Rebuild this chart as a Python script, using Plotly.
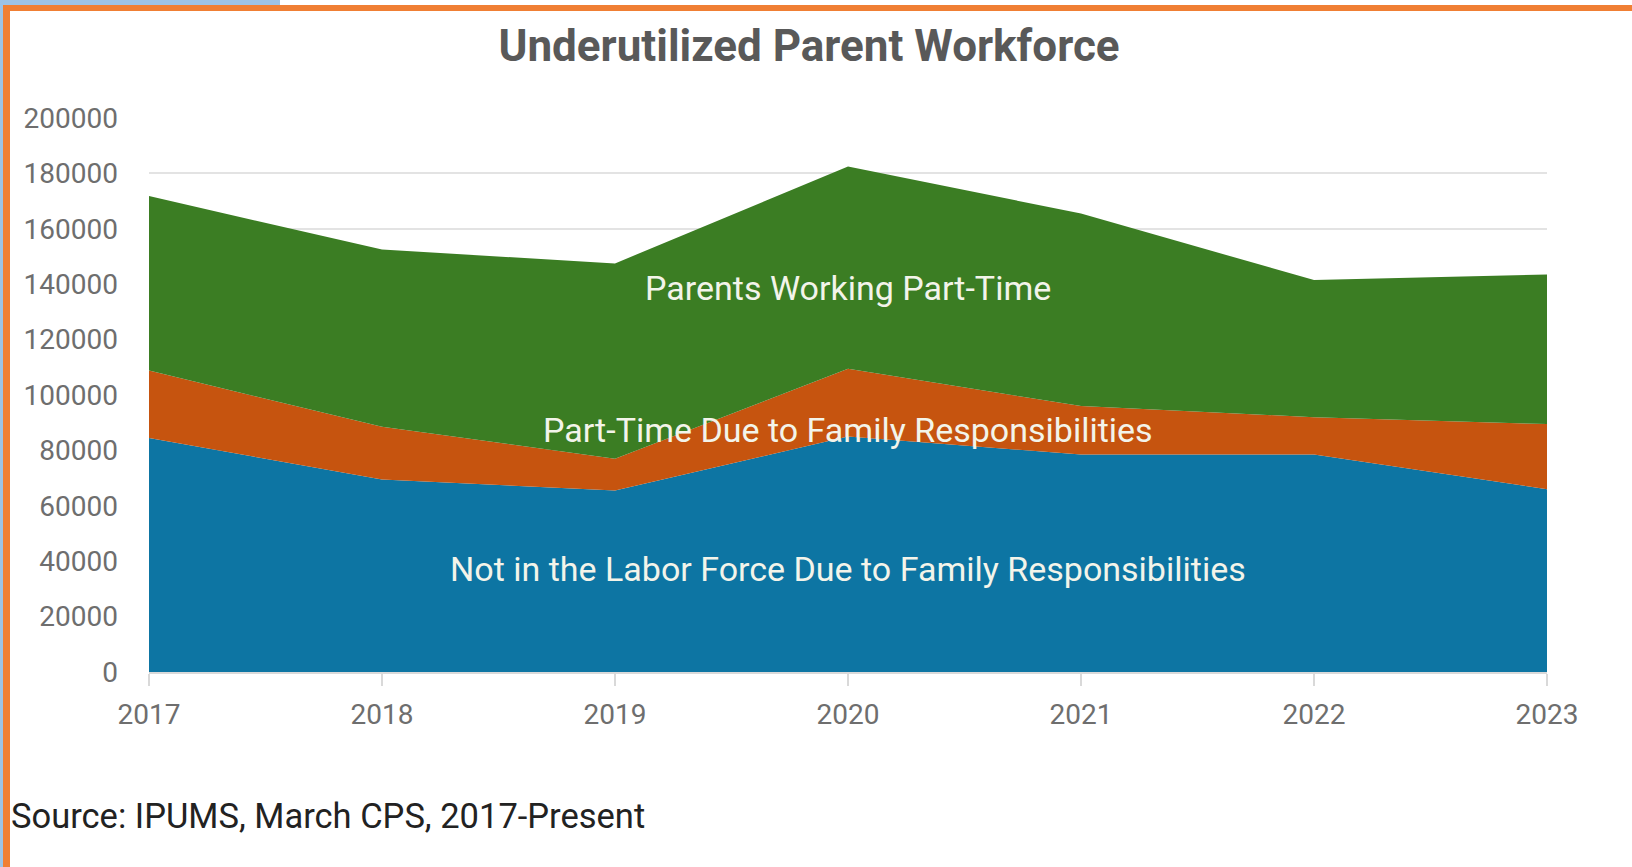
import plotly.graph_objects as go

# Survey years
years = [2017, 2018, 2019, 2020, 2021, 2022, 2023]

# Stacked components (number of parents)
not_in_labor_force = [84500, 69500, 65500, 85000, 78500, 78500, 66000]
part_time_family = [24300, 19000, 11500, 24500, 17500, 13500, 23500]
working_part_time = [63000, 64000, 70500, 73000, 69500, 49500, 54000]

y_ticks = [0, 20000, 40000, 60000, 80000, 100000, 120000, 140000, 160000, 180000, 200000]

series_names = [
    "Not in the Labor Force Due to Family Responsibilities",
    "Part-Time Due to Family Responsibilities",
    "Parents Working Part-Time",
]
series_colors = ["#0D75A3", "#C6540F", "#3B7D23"]

# Page geometry (pixels)
W_PX, H_PX = 1632, 867
L, R, T, B = 149, 85, 118, 195
plot_w = W_PX - L - R
plot_h = H_PX - T - B


def px_x(px):
    return (px - L) / plot_w


def px_y(py):
    return (H_PX - B - py) / plot_h


fig = go.Figure()
for name, vals, col in zip(series_names,
                           [not_in_labor_force, part_time_family, working_part_time],
                           series_colors):
    fig.add_trace(go.Scatter(
        x=years, y=vals, name=name, mode="lines",
        stackgroup="one", line=dict(width=0, color=col),
        fillcolor=col, hoverinfo="x+y+name",
    ))

# In-area labels, centred over 2020 inside each band
label_font = dict(family="Roboto, sans-serif", size=34, color="#F3F4EA")
label_pos = [(2020, 37300), (2020, 87400), (2020, 138600)]
for name, (lx, ly) in zip(series_names, label_pos):
    fig.add_annotation(x=lx, y=ly, xref="x", yref="y", text=name,
                       showarrow=False, font=label_font,
                       xanchor="center", yanchor="middle")

# Source note
fig.add_annotation(x=px_x(9), y=px_y(816), xref="paper", yref="paper",
                   text="Source: IPUMS, March CPS, 2017-Present",
                   showarrow=False, xanchor="left", yanchor="middle",
                   font=dict(family="Roboto, sans-serif", size=34.5, color="#222222"))

# Frame: light blue tab and strip, orange border
frame = [
    (0, 0, 280, 6, "#9DC3E6"),
    (0, 0, 3, H_PX, "#9DC3E6"),
    (3, 5, W_PX, 11, "#F07F34"),
    (3, 5, 10, H_PX, "#F07F34"),
]
for x0, y0, x1, y1, col in frame:
    fig.add_shape(type="rect", xref="paper", yref="paper",
                  x0=px_x(x0), x1=px_x(x1), y0=px_y(y1), y1=px_y(y0),
                  fillcolor=col, line=dict(width=0), layer="above")

fig.update_layout(
    width=W_PX, height=H_PX,
    margin=dict(l=L, r=R, t=T, b=B),
    paper_bgcolor="white", plot_bgcolor="white",
    showlegend=False,
    title=dict(text="<b>Underutilized Parent Workforce</b>",
               x=809 / W_PX, xanchor="center", xref="container",
               y=1 - 46 / H_PX, yanchor="middle", yref="container",
               font=dict(family="Roboto, sans-serif", size=44, color="#595959")),
    xaxis=dict(range=[2017, 2023], tickvals=years, ticktext=[str(y) for y in years],
               showgrid=False, zeroline=False,
               showline=True, linecolor="#D9D9D9", linewidth=1.5,
               ticks="outside", ticklen=12, tickwidth=1.5, tickcolor="#D9D9D9",
               ticklabelstandoff=5,
               tickfont=dict(family="Roboto, sans-serif", size=28, color="#6E6E6E")),
    yaxis=dict(range=[0, 200000], tickvals=y_ticks,
               ticktext=[str(v) for v in y_ticks],
               showgrid=True, gridcolor="#E3E3E3", gridwidth=2,
               zeroline=False, showline=False, ticks="",
               ticklabelstandoff=30,
               tickfont=dict(family="Roboto, sans-serif", size=28, color="#6E6E6E")),
)

fig.write_html("out.html")
